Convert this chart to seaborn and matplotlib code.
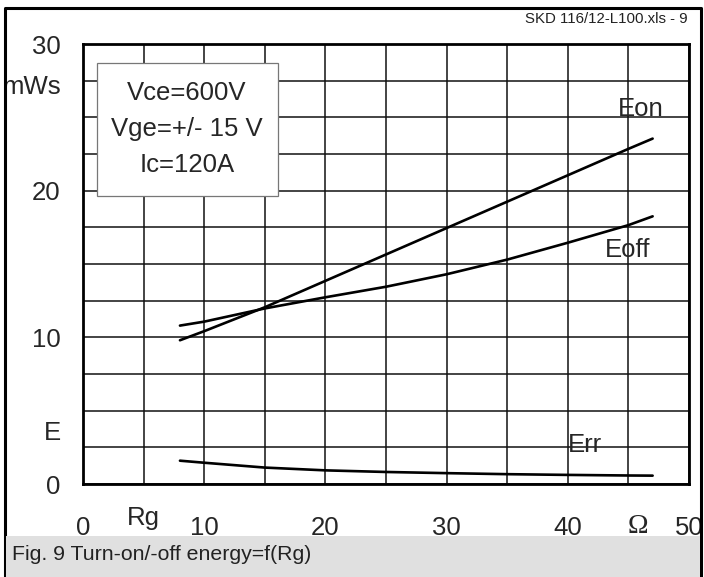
import numpy as np
import pandas as pd
import matplotlib
matplotlib.use("Agg")
import matplotlib.pyplot as plt
from matplotlib.patches import Rectangle
from matplotlib.lines import Line2D
import seaborn as sns

# Values (Rg in Ohm, E in mWs)
rg = [8, 10, 15, 20, 25, 30, 35, 40, 45, 47]
e_on = [9.8, 10.42, 12.05, 13.85, 15.65, 17.45, 19.25, 21.05, 22.85, 23.55]
e_off = [10.8, 11.07, 11.97, 12.73, 13.45, 14.3, 15.3, 16.45, 17.65, 18.25]
e_rr = [1.59, 1.45, 1.12, 0.93, 0.82, 0.74, 0.67, 0.62, 0.58, 0.57]

x_ticks = [0, 10, 20, 30, 40, 50]
y_ticks = [0, 10, 20, 30]
conditions = ["Vce=600V", "Vge=+/- 15 V", "Ic=120A"]

df = pd.DataFrame({
    "Rg": rg * 3,
    "E": e_on + e_off + e_rr,
    "curve": ["Eon"] * len(rg) + ["Eoff"] * len(rg) + ["Err"] * len(rg),
})

sns.set_style("white")
plt.rcParams["font.family"] = ["Liberation Sans", "DejaVu Sans"]

fig = plt.figure(figsize=(7.04, 5.77), dpi=100)
ax = fig.add_axes([83 / 704, 93 / 577, 606 / 704, 440 / 577])

for name in ["Eon", "Eoff", "Err"]:
    sns.lineplot(data=df[df["curve"] == name], x="Rg", y="E", color="black",
                 linewidth=1.9, ax=ax, zorder=3)

ax.set_xlim(0, 50)
ax.set_ylim(0, 30)
ax.set_xticks(x_ticks)
ax.set_yticks(y_ticks)
ax.set_xticks(np.arange(0, 51, 5), minor=True)
ax.set_yticks(np.arange(0, 30.1, 2.5), minor=True)
ax.set_xticklabels([str(t) for t in x_ticks], fontsize=18.5)
ax.set_yticklabels([str(t) for t in y_ticks], fontsize=18.5)
ax.tick_params(axis="x", which="both", length=0, pad=23)
ax.tick_params(axis="y", which="both", length=0, pad=16)
ax.grid(True, which="both", color="#111111", linewidth=1.1)
ax.set_xlabel("")
ax.set_ylabel("")
for s in ax.spines.values():
    s.set_visible(True)
    s.set_color("black")
    s.set_linewidth(2.0)

# axis unit labels
ax.text(5, -0.078, "Rg", transform=ax.get_xaxis_transform(), ha="center",
        va="center", fontsize=18.5, clip_on=False)
ax.text(45.8, -0.096, "\u03a9", transform=ax.get_xaxis_transform(), ha="center",
        va="center", fontsize=20, family="Liberation Serif", clip_on=False)
ax.text(-0.036, 27.1, "mWs", transform=ax.get_yaxis_transform(), ha="right",
        va="center", fontsize=18.5, clip_on=False)
ax.text(-0.036, 3.5, "E", transform=ax.get_yaxis_transform(), ha="right",
        va="center", fontsize=18.5, clip_on=False)

# curve names
ax.text(46.0, 25.6, "Eon", ha="center", va="center", fontsize=18.5, zorder=2)
ax.text(44.9, 15.95, "Eoff", ha="center", va="center", fontsize=18.5, zorder=2)
ax.text(41.4, 2.66, "Err", ha="center", va="center", fontsize=18.5, zorder=2)

# conditions box
ax.add_patch(Rectangle((14 / 606, 288 / 440), 181 / 606, 133 / 440,
                       transform=ax.transAxes, facecolor="white",
                       edgecolor="#777777", linewidth=0.9, zorder=4))
for i, line in enumerate(conditions):
    ax.text(104 / 606, (484 - 93 - 36 * i) / 440, line, transform=ax.transAxes,
            ha="center", va="center", fontsize=18.5, zorder=5)

# page frame, header and caption
fig.add_artist(Line2D([5 / 704, 5 / 704, 701 / 704, 701 / 704],
                      [0, 1 - 7.5 / 577, 1 - 7.5 / 577, 0],
                      color="black", linewidth=2.2))
fig.add_artist(Rectangle((6 / 704, 0), 694 / 704, 41 / 577, facecolor="#e0e0e0",
                         edgecolor="none", zorder=5))
fig.text(688 / 704, 1 - 19 / 577, "SKD 116/12-L100.xls - 9", ha="right",
         va="center", fontsize=10.8, color="#222222")
fig.text(12 / 704, 1 - 554 / 577, "Fig. 9 Turn-on/-off energy=f(Rg)", ha="left",
         va="center", fontsize=15.3, color="#222222", zorder=6)

fig.savefig("out.png", dpi=100)
